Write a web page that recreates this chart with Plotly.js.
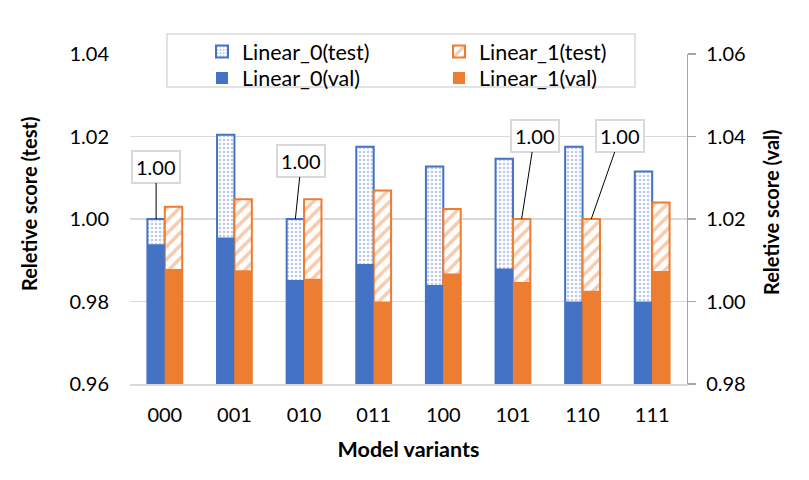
<!DOCTYPE html>
<html>
<head>
<meta charset="utf-8">
<script src="https://cdn.plot.ly/plotly-3.0.1.min.js"></script>
<style>html,body{margin:0;padding:0;background:#fff;}#chart{width:809px;height:480px;}</style>
</head>
<body>
<div id="chart"></div>
<script>
// ---- data ----
const categories = ['000', '001', '010', '011', '100', '101', '110', '111'];
const linear0Test = [1.0000, 1.0204, 1.0000, 1.0175, 1.0127, 1.0146, 1.0175, 1.0115];
const linear1Test = [1.0030, 1.0048, 1.0048, 1.0069, 1.0024, 1.0000, 1.0000, 1.0040];
const linear0Val  = [1.0139, 1.0155, 1.0052, 1.0091, 1.0040, 1.0080, 1.0000, 1.0000];
const linear1Val  = [1.0079, 1.0076, 1.0055, 1.0000, 1.0068, 1.0047, 1.0026, 1.0074];
const seriesNames = ['Linear_0(test)', 'Linear_1(test)', 'Linear_0(val)', 'Linear_1(val)'];
const leftTickVals = [0.96, 0.98, 1.00, 1.02, 1.04];
const rightTickVals = [0.98, 1.00, 1.02, 1.04, 1.06];
const axisTitles = ['Model variants', 'Reletive score (test)', 'Reletive score (val)'];
// labelled data points: [category index, test series index]
const labelled = [[0, 0], [2, 0], [5, 1], [6, 1]];

const BLUE = '#4472C4', ORANGE = '#ED7D31';
const FONT = 'Lato, "Liberation Sans", sans-serif';
const BW = 0.25;

const traces = [
  {type: 'bar', name: seriesNames[0], x: categories, y: linear0Test, yaxis: 'y', legend: 'legend',
   width: BW, offset: -BW,
   marker: {color: 'white', line: {color: BLUE, width: 2},
            pattern: {shape: '.', fillmode: 'replace', bgcolor: 'white', fgcolor: '#bccbec', size: 4, solidity: 0.35}}},
  {type: 'bar', name: seriesNames[1], x: categories, y: linear1Test, yaxis: 'y', legend: 'legend',
   width: BW, offset: 0,
   marker: {color: 'white', line: {color: ORANGE, width: 2},
            pattern: {shape: '/', fillmode: 'replace', bgcolor: 'white', fgcolor: '#f8cbad', size: 9, solidity: 0.4}}},
  {type: 'bar', name: seriesNames[2], x: categories, y: linear0Val, yaxis: 'y2', legend: 'legend2',
   width: BW, offset: -BW, marker: {color: BLUE, line: {width: 0}}},
  {type: 'bar', name: seriesNames[3], x: categories, y: linear1Val, yaxis: 'y2', legend: 'legend2',
   width: BW, offset: 0, marker: {color: ORANGE, line: {width: 0}}}
];

const tests = [linear0Test, linear1Test];
const annoOffsets = [[0, -52], [6, -58], [13, -83], [29, -83]];
const annotations = labelled.map(([i, s], k) => ({
  x: i + (s === 0 ? -BW / 2 : BW / 2), y: tests[s][i], xref: 'x', yref: 'y',
  text: tests[s][i].toFixed(2), showarrow: true, arrowhead: 0, arrowwidth: 1,
  arrowcolor: '#000', standoff: 0, ax: annoOffsets[k][0], ay: annoOffsets[k][1],
  bgcolor: 'white', bordercolor: '#d9d9d9', borderwidth: 2, borderpad: 3,
  font: {family: FONT, size: 20, color: '#000'}
}));

const L = 130, R = 809 - 687, T = 54, B = 480 - 384;
const pw = 809 - L - R, ph = 480 - T - B;
const px = v => (v - L) / pw, py = v => (480 - B - v) / ph;

// y-axis titles placed as rotated annotations (paper coords)
annotations.push(
  {xref: 'paper', yref: 'paper', x: px(29), y: py(204), xanchor: 'center', yanchor: 'middle',
   text: '<b>' + axisTitles[1] + '</b>', textangle: -90,
   showarrow: false, font: {family: FONT, size: 20, color: '#000'}},
  {xref: 'paper', yref: 'paper', x: px(771), y: py(212), xanchor: 'center', yanchor: 'middle',
   text: '<b>' + axisTitles[2] + '</b>', textangle: -90,
   showarrow: false, font: {family: FONT, size: 20, color: '#000'}}
);

const legendBase = {orientation: 'h', xanchor: 'left', yanchor: 'top',
  entrywidth: 192, entrywidthmode: 'pixels', bgcolor: 'rgba(0,0,0,0)', borderwidth: 0,
  font: {family: FONT, size: 21.5, color: '#000'}, traceorder: 'normal'};

const layout = {
  width: 809, height: 480,
  margin: {l: L, r: R, t: T, b: B},
  paper_bgcolor: 'white', plot_bgcolor: 'white',
  font: {family: FONT, size: 20, color: '#000'},
  barmode: 'overlay',
  showlegend: true,
  legend: Object.assign({}, legendBase, {x: px(202), y: py(31)}),
  legend2: Object.assign({}, legendBase, {x: px(202), y: py(57.5)}),
  xaxis: {type: 'category', range: [-0.5, 7.5], showgrid: false, zeroline: false,
          showline: true, linecolor: '#d9d9d9', linewidth: 1.5, ticks: '',
          tickfont: {family: FONT, size: 20, color: '#000'}, ticklabelstandoff: 12,
          title: {text: '<b>' + axisTitles[0] + '</b>', font: {family: FONT, size: 21.5, color: '#000'}, standoff: 17}},
  yaxis: {range: [0.96, 1.04], tickvals: leftTickVals, tickformat: '.2f', showgrid: true,
          gridcolor: '#d9d9d9', gridwidth: 1.5, zeroline: false, showline: false, ticks: '',
          tickfont: {family: FONT, size: 20, color: '#000'}, ticklabelstandoff: 20},
  yaxis2: {overlaying: 'y', side: 'right', range: [0.98, 1.06], tickvals: rightTickVals, tickformat: '.2f',
           showgrid: false, zeroline: false, showline: true, linecolor: '#a6a6a6', linewidth: 1.2,
           ticks: 'outside', ticklen: 8, tickcolor: '#a6a6a6', tickwidth: 1.2,
           tickfont: {family: FONT, size: 20, color: '#000'}, ticklabelstandoff: 6},
  shapes: [{type: 'rect', xref: 'paper', yref: 'paper', x0: px(167), x1: px(635), y0: py(87), y1: py(34),
            fillcolor: 'white', line: {color: '#d9d9d9', width: 1.5}, layer: 'above'}],
  annotations: annotations
};

Plotly.newPlot('chart', traces, layout, {staticPlot: true, displayModeBar: false});
</script>
</body>
</html>
